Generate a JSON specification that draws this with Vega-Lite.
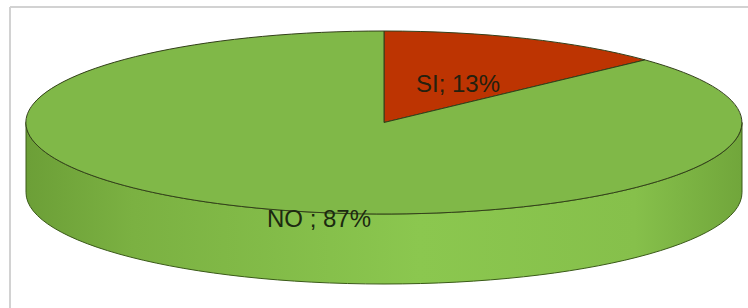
{
  "$schema": "https://vega.github.io/schema/vega-lite/v6.json",
  "width": 739,
  "height": 302,
  "padding": {"left": 9, "top": 6, "right": 0, "bottom": 0},
  "background": "white",
  "view": {"stroke": "transparent", "fill": null},
  "config": {"view": {"stroke": "transparent", "strokeWidth": 0}},
  "data": {
    "values": [
      {"categoria": "SI", "percentuale": 13, "etichetta": "SI; 13%"},
      {"categoria": "NO", "percentuale": 87, "etichetta": "NO ; 87%"}
    ]
  },
  "layer": [
    {
      "transform": [{"filter": "datum.categoria == 'NO'"}],
      "mark": {"type": "rule", "color": "#d2d2d2", "strokeWidth": 2},
      "encoding": {"y": {"value": 0}}
    },
    {
      "transform": [{"filter": "datum.categoria == 'NO'"}],
      "mark": {"type": "rule", "color": "#d2d2d2", "strokeWidth": 2},
      "encoding": {"x": {"value": 0}}
    },
    {
      "transform": [{"filter": "datum.categoria == 'NO'"}],
      "mark": {
        "type": "point",
        "shape": "M -353.5 -35.5 L -353.5 34.5 A 358 91.5 0 0 0 362.5 34.5 L 362.5 -35.5 A 358 91.5 0 0 1 -353.5 -35.5 Z",
        "size": 4,
        "filled": true,
        "opacity": 1,
        "fill": {
          "gradient": "linear",
          "x1": 0, "x2": 1, "y1": 0, "y2": 0,
          "stops": [
            {"offset": 0, "color": "#6c9f37"},
            {"offset": 0.15, "color": "#7bb142"},
            {"offset": 0.55, "color": "#8bc74f"},
            {"offset": 0.85, "color": "#86c04b"},
            {"offset": 1, "color": "#71a63b"}
          ]
        },
        "stroke": "#3a5a18",
        "strokeWidth": 1
      },
      "encoding": {}
    },
    {
      "mark": {
        "type": "point",
        "size": 4,
        "filled": true,
        "opacity": 1,
        "stroke": "#33401a",
        "strokeWidth": 1
      },
      "encoding": {
        "shape": {
          "field": "categoria",
          "type": "nominal",
          "scale": {
            "domain": ["NO", "SI"],
            "range": [
              "M 4.5 -35.5 L 265.5 -98.1 A 358 91.5 0 1 1 4.5 -127 Z",
              "M 4.5 -35.5 L 4.5 -127 A 358 91.5 0 0 1 265.5 -98.1 Z"
            ]
          },
          "legend": null
        },
        "fill": {
          "field": "categoria",
          "type": "nominal",
          "scale": {"domain": ["NO", "SI"], "range": ["#80b848", "#bd3402"]},
          "legend": null
        },
        "tooltip": [
          {"field": "categoria", "type": "nominal"},
          {"field": "percentuale", "type": "quantitative"}
        ]
      }
    },
    {
      "transform": [{"filter": "datum.categoria == 'SI'"}],
      "mark": {
        "type": "text",
        "font": "Liberation Sans",
        "fontSize": 24,
        "color": "#24200e",
        "align": "center",
        "baseline": "alphabetic",
        "dx": 78.5,
        "dy": -66.3
      },
      "encoding": {"text": {"field": "etichetta", "type": "nominal"}}
    },
    {
      "transform": [{"filter": "datum.categoria == 'NO'"}],
      "mark": {
        "type": "text",
        "font": "Liberation Sans",
        "fontSize": 24,
        "color": "#1c2a10",
        "align": "center",
        "baseline": "alphabetic",
        "dx": -60.5,
        "dy": 69
      },
      "encoding": {"text": {"field": "etichetta", "type": "nominal"}}
    }
  ]
}
